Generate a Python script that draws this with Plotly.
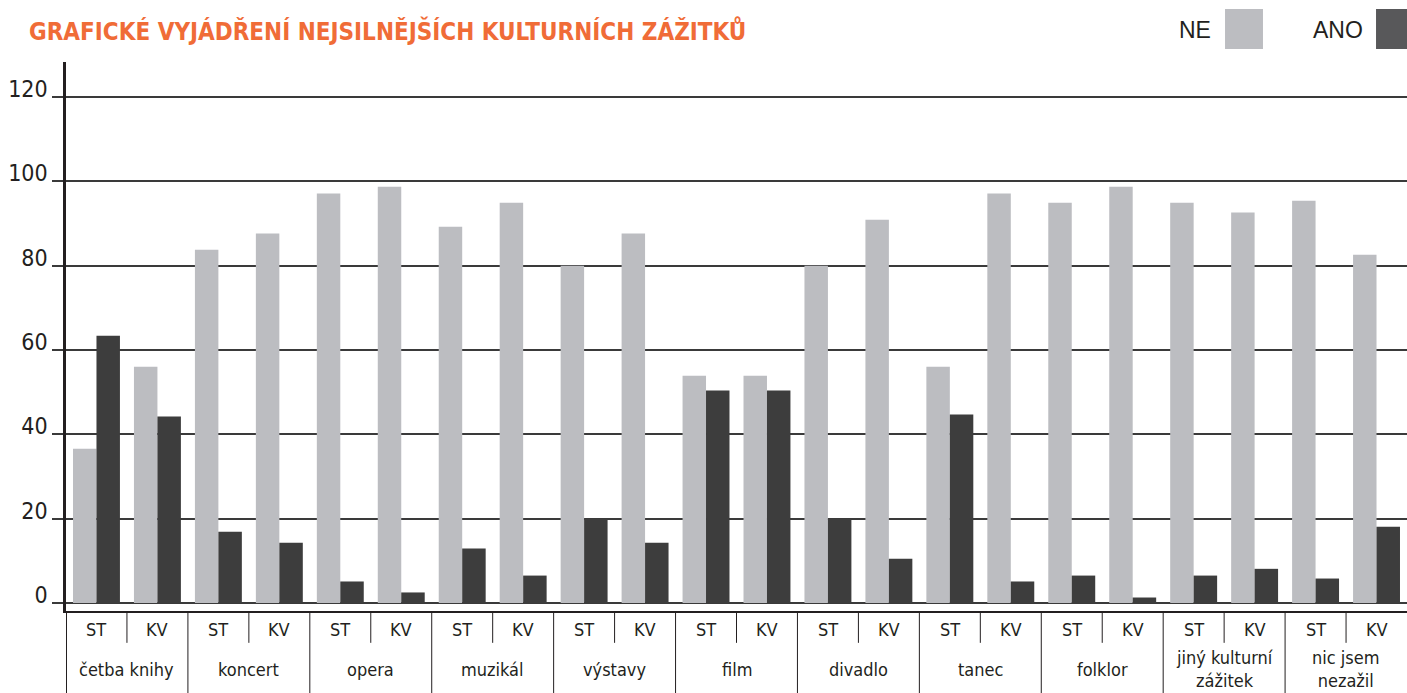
import plotly.graph_objects as go

categories = ["četba knihy", "koncert", "opera", "muzikál", "výstavy", "film",
              "divadlo", "tanec", "folklor", "jiný kulturní<br>zážitek", "nic jsem<br>nezažil"]
subgroups = ["ST", "KV"]
ne_values = [36.6, 56.0, 83.8, 87.6, 97.1, 98.7, 89.2, 94.9, 80.0, 87.6, 53.9,
             53.9, 80.0, 90.9, 56.0, 97.1, 94.9, 98.7, 94.9, 92.6, 95.4, 82.6]
ano_values = [63.4, 44.2, 16.9, 14.3, 5.1, 2.5, 12.9, 6.5, 20.0, 14.3, 50.4,
              50.4, 20.0, 10.5, 44.7, 5.1, 6.5, 1.3, 6.5, 8.1, 5.8, 18.1]
y_ticks = [0, 20, 40, 60, 80, 100, 120]
title_text = "GRAFICKÉ VYJÁDŘENÍ NEJSILNĚJŠÍCH KULTURNÍCH ZÁŽITKŮ"

NE_COLOR = "#bcbdc1"
ANO_COLOR = "#3d3d3d"
ANO_LEGEND = "#58585a"
INK = "#231f20"
LABEL_FONT = "DejaVu Sans Condensed, DejaVu Sans, sans-serif"

n_sub = len(categories) * len(subgroups)
xpos = list(range(n_sub))

fig = go.Figure()
fig.add_trace(go.Bar(x=xpos, y=ne_values, name="NE", marker_color=NE_COLOR,
                     marker_line_width=0, showlegend=False))
fig.add_trace(go.Bar(x=xpos, y=ano_values, name="ANO", marker_color=ANO_COLOR,
                     marker_line_width=0, showlegend=False))

shapes = []
annotations = []
# sub-group labels and dividers
for i in range(n_sub):
    annotations.append(dict(x=i, y=-0.033, xref="x", yref="paper", text=subgroups[i % 2],
                            showarrow=False, font=dict(family=LABEL_FONT, size=18, color=INK),
                            xanchor="center", yanchor="middle"))
for c in range(len(categories)):
    center = 2 * c + 0.5
    annotations.append(dict(x=center, y=-0.106, xref="x", yref="paper", text=categories[c],
                            showarrow=False, font=dict(family=LABEL_FONT, size=18, color=INK),
                            xanchor="center", yanchor="middle"))
    # divider between ST and KV
    shapes.append(dict(type="line", xref="x", yref="paper", x0=center, x1=center,
                       y0=0, y1=-0.058, line=dict(color=INK, width=1)))
    # category left divider
    shapes.append(dict(type="line", xref="x", yref="paper", x0=2 * c - 0.5, x1=2 * c - 0.5,
                       y0=0, y1=-0.16, line=dict(color=INK, width=2 if c == 0 else 1)))

# legend (custom)
annotations.append(dict(x=0.8553, y=1.0583, xref="paper", yref="paper", text="NE",
                        showarrow=False, xanchor="right", yanchor="middle",
                        font=dict(family="Liberation Sans, Arial, sans-serif", size=23, color=INK)))
annotations.append(dict(x=0.9687, y=1.0583, xref="paper", yref="paper", text="ANO",
                        showarrow=False, xanchor="right", yanchor="middle",
                        font=dict(family="Liberation Sans, Arial, sans-serif", size=23, color=INK)))
shapes.append(dict(type="rect", xref="paper", yref="paper", x0=0.8643, x1=0.8926,
                   y0=1.0237, y1=1.0965, fillcolor=NE_COLOR, line_width=0))
shapes.append(dict(type="rect", xref="paper", yref="paper", x0=0.9769, x1=1.01,
                   y0=1.0237, y1=1.0965, fillcolor=ANO_LEGEND, line_width=0))

# title
annotations.append(dict(x=-0.0291, y=1.0565, xref="paper", yref="paper", text="<b>" + title_text + "</b>",
                        showarrow=False, xanchor="left", yanchor="middle",
                        font=dict(family="DejaVu Sans Condensed, DejaVu Sans, sans-serif", size=24,
                                  color="#f06c37")))

fig.update_layout(
    width=1407, height=693,
    margin=dict(l=66, r=0, t=62, b=82, autoexpand=False),
    paper_bgcolor="white", plot_bgcolor="white",
    barmode="group", bargap=0.23, bargroupgap=0,
    shapes=shapes, annotations=annotations,
    xaxis=dict(range=[-0.5, n_sub - 0.5], showticklabels=False, showgrid=False, zeroline=False,
               showline=True, linecolor=INK, linewidth=2, ticks="", automargin=False),
    yaxis=dict(range=[-1.9, 128.3], tickvals=y_ticks, showgrid=True, gridcolor="#3a3a3a",
               gridwidth=1.5, zeroline=False, showline=True, linecolor=INK, linewidth=2.5,
               ticks="outside", ticklen=11, tickcolor="#3a3a3a", tickwidth=1.5,
               ticklabelshift=-8, automargin=False,
               tickfont=dict(family=LABEL_FONT, size=23, color=INK)),
)

fig.write_html("out.html", config={"displayModeBar": False},
               post_script="document.body.style.margin='0';document.body.style.overflow='hidden';")
